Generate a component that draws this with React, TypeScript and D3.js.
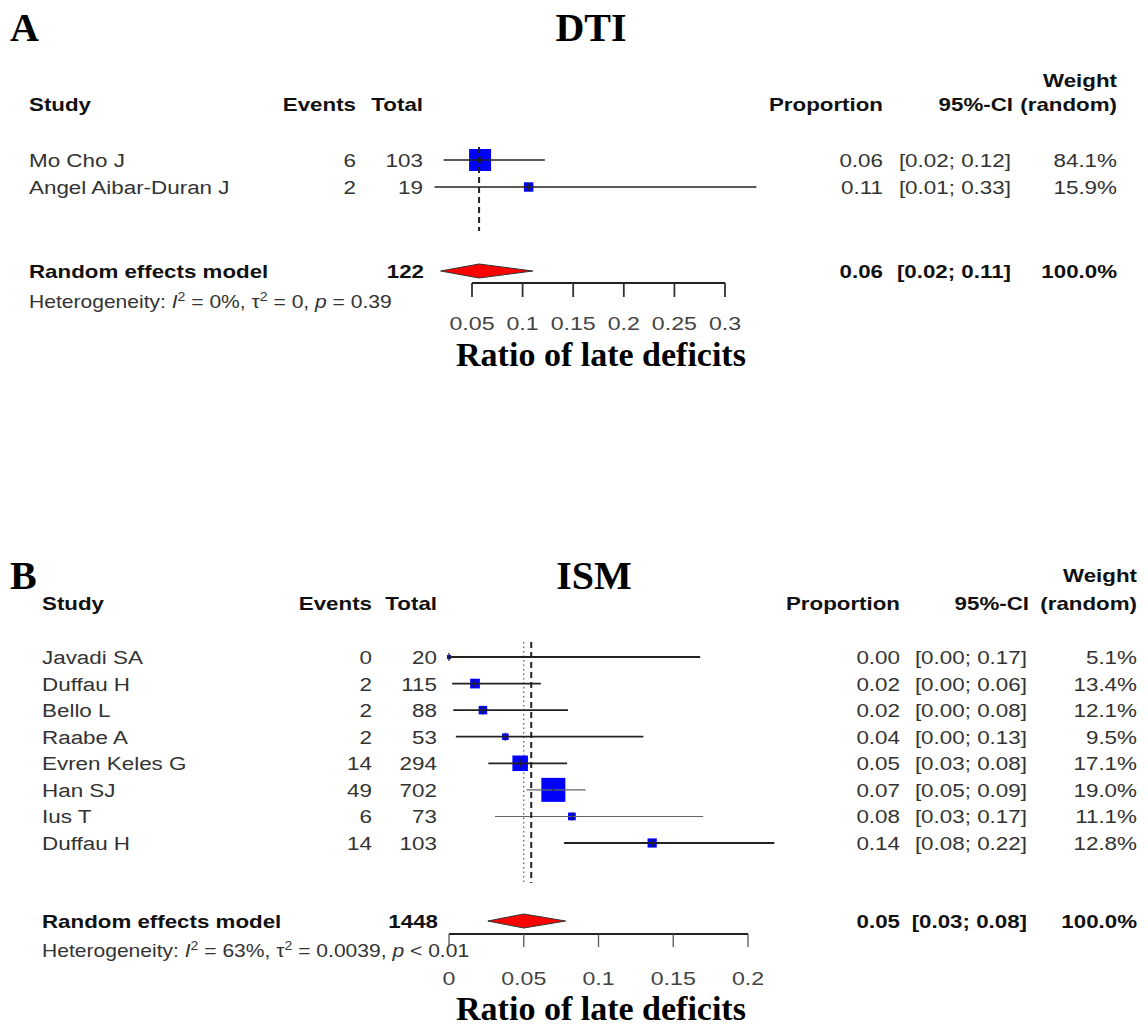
import React from "react";
import * as d3 from "d3";

// ---------- Panel A (DTI) data ----------
const studiesA = ["Mo Cho J", "Angel Aibar-Duran J"];
const eventsA = [6, 2];
const totalA = [103, 19];
const propA = [0.058, 0.106];
const lowerA = [0.022, 0.013];
const upperA = [0.122, 0.331];
const weightA = [84.1, 15.9];
const pooledA = [0.057, 0.019, 0.11]; // est, lower, upper
const pooledTotalA = 122;
const hetA = ["0%", "0", "= 0.39"];
const ticksA = [0.05, 0.1, 0.15, 0.2, 0.25, 0.3];
const tickLabelsA = ["0.05", "0.1", "0.15", "0.2", "0.25", "0.3"];
const dashedA = 0.057;

// ---------- Panel B (ISM) data ----------
const studiesB = ["Javadi SA", "Duffau H", "Bello L", "Raabe A", "Evren Keles G", "Han SJ", "Ius T", "Duffau H"];
const eventsB = [0, 2, 2, 2, 14, 49, 6, 14];
const totalB = [20, 115, 88, 53, 294, 702, 73, 103];
const propB = [0.0, 0.0174, 0.0227, 0.0377, 0.0476, 0.0698, 0.0822, 0.1359];
const lowerB = [0.0, 0.0021, 0.0028, 0.0046, 0.0263, 0.052, 0.0308, 0.077];
const upperB = [0.168, 0.0614, 0.0796, 0.13, 0.079, 0.0913, 0.17, 0.2176];
const weightB = [5.1, 13.4, 12.1, 9.5, 17.1, 19.0, 11.1, 12.8];
const pooledB = [0.05, 0.026, 0.078];
const pooledTotalB = 1448;
const hetB = ["63%", "0.0039", "< 0.01"];
const ticksB = [0, 0.05, 0.1, 0.15, 0.2];
const tickLabelsB = ["0", "0.05", "0.1", "0.15", "0.2"];
const dashedB = 0.055;
const dottedB = 0.05;

const SANS = "'Liberation Sans', Arial, Helvetica, sans-serif";
const SERIF = "'Liberation Serif', 'Times New Roman', Times, serif";

function T({ x, y, anchor = "start", size = 19, weight = "normal", fill = "#333", sx, children }: any) {
  const s = sx ?? (weight === "bold" ? 1.24 : 1.18);
  const fs = weight === "bold" && size === 19 ? 18 : size;
  return (
    <text
      transform={`translate(${x},${y}) scale(${s},1)`}
      textAnchor={anchor}
      fontFamily={SANS}
      fontSize={fs}
      fontWeight={weight}
      fill={fill}
    >
      {children}
    </text>
  );
}

function Panel({ L, d }: any) {
  const x = d3.scaleLinear().domain(L.axisDomain).range(L.axisRange);
  const y = d3.scalePoint<number>().domain(d.studies.map((_: any, i: number) => i)).range(L.rowRange);
  const box = d3.scaleSqrt().domain([0, d3.max(d.total as number[])!]).range([0, L.maxBox]);
  const f2 = (v: number) => v.toFixed(2);
  const ciText = (lo: number, hi: number) => `[${f2(lo)}; ${f2(hi)}]`;
  const [pe, plo, phi] = d.pooled;
  const sy = L.sumY;
  const dh = 7;
  return (
    <g>
      {/* letter + title */}
      <text x={10} y={L.titleY} fontFamily={SERIF} fontWeight="bold" fontSize={40} fill="#000">{L.letter}</text>
      <text x={L.titleX} y={L.titleY} fontFamily={SERIF} fontWeight="bold" fontSize={40} fill="#000" textAnchor="middle">{L.title}</text>

      {/* headers */}
      <T x={L.colRight[4]} y={L.weightY} anchor="end" weight="bold" fill="#111">Weight</T>
      <T x={L.colStudy} y={L.headY} weight="bold" fill="#111">Study</T>
      <T x={L.colRight[0]} y={L.headY} anchor="end" weight="bold" fill="#111">Events</T>
      <T x={L.colRight[1]} y={L.headY} anchor="end" weight="bold" fill="#111">Total</T>
      <T x={L.colRight[2]} y={L.headY} anchor="end" weight="bold" fill="#111">Proportion</T>
      <T x={L.colRight[3] + 2} y={L.headY} anchor="end" weight="bold" fill="#111">95%-CI</T>
      <T x={L.colRight[4]} y={L.headY} anchor="end" weight="bold" fill="#111">(random)</T>

      {/* reference lines */}
      {d.dotted != null && (
        <line x1={x(d.dotted)} x2={x(d.dotted)} y1={L.refTop} y2={L.refBottom} stroke="#555" strokeWidth={1.2} strokeDasharray="1.5,3" />
      )}

      {/* study rows */}
      {d.studies.map((s: string, i: number) => {
        const yy = y(i)!;
        const side = Math.max(box(d.total[i]), 4);
        const thin = L.thinRows && L.thinRows.includes(i);
        return (
          <g key={i}>
            <T x={L.colStudy} y={yy + 7}>{s}</T>
            <T x={L.colRight[0]} y={yy + 7} anchor="end">{d.events[i]}</T>
            <T x={L.colRight[1]} y={yy + 7} anchor="end">{d.total[i]}</T>
            <T x={L.colRight[2]} y={yy + 7} anchor="end">{f2(d.prop[i])}</T>
            <T x={L.colRight[3]} y={yy + 7} anchor="end">{ciText(d.lower[i], d.upper[i])}</T>
            <T x={L.colRight[4]} y={yy + 7} anchor="end">{d.weight[i].toFixed(1) + "%"}</T>
            <rect x={x(d.prop[i]) - side / 2} y={yy - side / 2} width={side} height={side} fill="#0000ff" />
            <line x1={x(d.lower[i])} x2={x(d.upper[i])} y1={yy} y2={yy} stroke={thin ? "#666" : "#222"} strokeWidth={thin ? 1.1 : L.ciWidth} />
            <line x1={x(d.prop[i])} x2={x(d.prop[i])} y1={yy - 4} y2={yy + 4} stroke="#222" strokeWidth={1.2} />
          </g>
        );
      })}

      <line x1={x(d.dashed)} x2={x(d.dashed)} y1={L.refTop} y2={L.refBottom} stroke="#222" strokeWidth={2} strokeDasharray="6,4" />

      {/* pooled */}
      <T x={L.colStudy} y={sy + 7} weight="bold" fill="#111">Random effects model</T>
      <T x={L.colRight[1] + 1} y={sy + 7} anchor="end" weight="bold" fill="#111">{d.pooledTotal}</T>
      <T x={L.colRight[2]} y={sy + 7} anchor="end" weight="bold" fill="#111">{f2(pe)}</T>
      <T x={L.colRight[3]} y={sy + 7} anchor="end" weight="bold" fill="#111">{ciText(plo, phi)}</T>
      <T x={L.colRight[4]} y={sy + 7} anchor="end" weight="bold" fill="#111">100.0%</T>
      <path
        d={`M${x(plo)},${sy} L${x(pe)},${sy - dh} L${x(phi)},${sy} L${x(pe)},${sy + dh} Z`}
        fill="#ff0000"
        stroke="#333"
        strokeWidth={1}
      />

      {/* heterogeneity */}
      <text transform={`translate(${L.colStudy},${L.hetY}) scale(1.17,1)`} fontFamily={SANS} fontSize={18} fill="#333">
        <tspan>Heterogeneity: </tspan>
        <tspan fontStyle="italic">I</tspan>
        <tspan dy={-7} fontSize={12}>2</tspan>
        <tspan dy={7}>{` = ${d.het[0]}, τ`}</tspan>
        <tspan dy={-7} fontSize={12}>2</tspan>
        <tspan dy={7}>{` = ${d.het[1]}, `}</tspan>
        <tspan fontStyle="italic">p</tspan>
        <tspan>{` ${d.het[2]}`}</tspan>
      </text>

      {/* axis */}
      <line x1={x(d.ticks[0])} x2={x(d.ticks[d.ticks.length - 1])} y1={L.axisY} y2={L.axisY} stroke="#222" strokeWidth={2} />
      {d.ticks.map((t: number, i: number) => (
        <g key={i}>
          <line x1={x(t)} x2={x(t)} y1={L.axisY} y2={L.axisY + L.tickLen} stroke={L.tickColor} strokeWidth={L.tickWidth} />
          <T x={x(t)} y={L.tickLabelY} anchor="middle" fill="#444" size={19} sx={1.22}>{d.tickLabels[i]}</T>
        </g>
      ))}
      <text x={L.xlabX} y={L.xlabY} textAnchor="middle" fontFamily={SERIF} fontWeight="bold" fontSize={34} fill="#000">
        Ratio of late deficits
      </text>
    </g>
  );
}

const layoutA = {
  letter: "A",
  title: "DTI",
  titleX: 591,
  titleY: 41,
  weightY: 87,
  headY: 111,
  colStudy: 29,
  colRight: [356, 423, 883, 1011, 1117],
  rowRange: [160, 187],
  maxBox: 22,
  ciWidth: 1.3,
  refTop: 147,
  refBottom: 231,
  sumY: 271,
  hetY: 308,
  axisDomain: [0.05, 0.3],
  axisRange: [472, 725],
  axisY: 283,
  tickLen: 14,
  tickColor: "#333",
  tickWidth: 1.8,
  tickLabelY: 330,
  xlabX: 601,
  xlabY: 366,
};

const layoutB = {
  letter: "B",
  title: "ISM",
  titleX: 594,
  titleY: 589,
  weightY: 582,
  headY: 610,
  colStudy: 42,
  colRight: [372, 437, 900, 1027, 1137],
  rowRange: [657, 843],
  maxBox: 24,
  ciWidth: 1.8,
  thinRows: [5, 6],
  refTop: 642,
  refBottom: 883,
  sumY: 921,
  hetY: 957,
  axisDomain: [0, 0.2],
  axisRange: [449, 748],
  axisY: 934,
  tickLen: 13,
  tickColor: "#555",
  tickWidth: 1.3,
  tickLabelY: 985,
  xlabX: 601,
  xlabY: 1020,
};

const dataA = {
  studies: studiesA, events: eventsA, total: totalA, prop: propA, lower: lowerA, upper: upperA,
  weight: weightA, pooled: pooledA, pooledTotal: pooledTotalA, het: hetA, ticks: ticksA,
  tickLabels: tickLabelsA, dashed: dashedA, dotted: null,
};
const dataB = {
  studies: studiesB, events: eventsB, total: totalB, prop: propB, lower: lowerB, upper: upperB,
  weight: weightB, pooled: pooledB, pooledTotal: pooledTotalB, het: hetB, ticks: ticksB,
  tickLabels: tickLabelsB, dashed: dashedB, dotted: dottedB,
};

export default function App() {
  return (
    <svg
      width={1148}
      height={1026}
      viewBox="0 0 1148 1026"
      style={{ position: "absolute", left: 0, top: 0, background: "#fff" }}
    >
      <rect width={1148} height={1026} fill="#fff" />
      <Panel L={layoutA} d={dataA} />
      <Panel L={layoutB} d={dataB} />
    </svg>
  );
}
